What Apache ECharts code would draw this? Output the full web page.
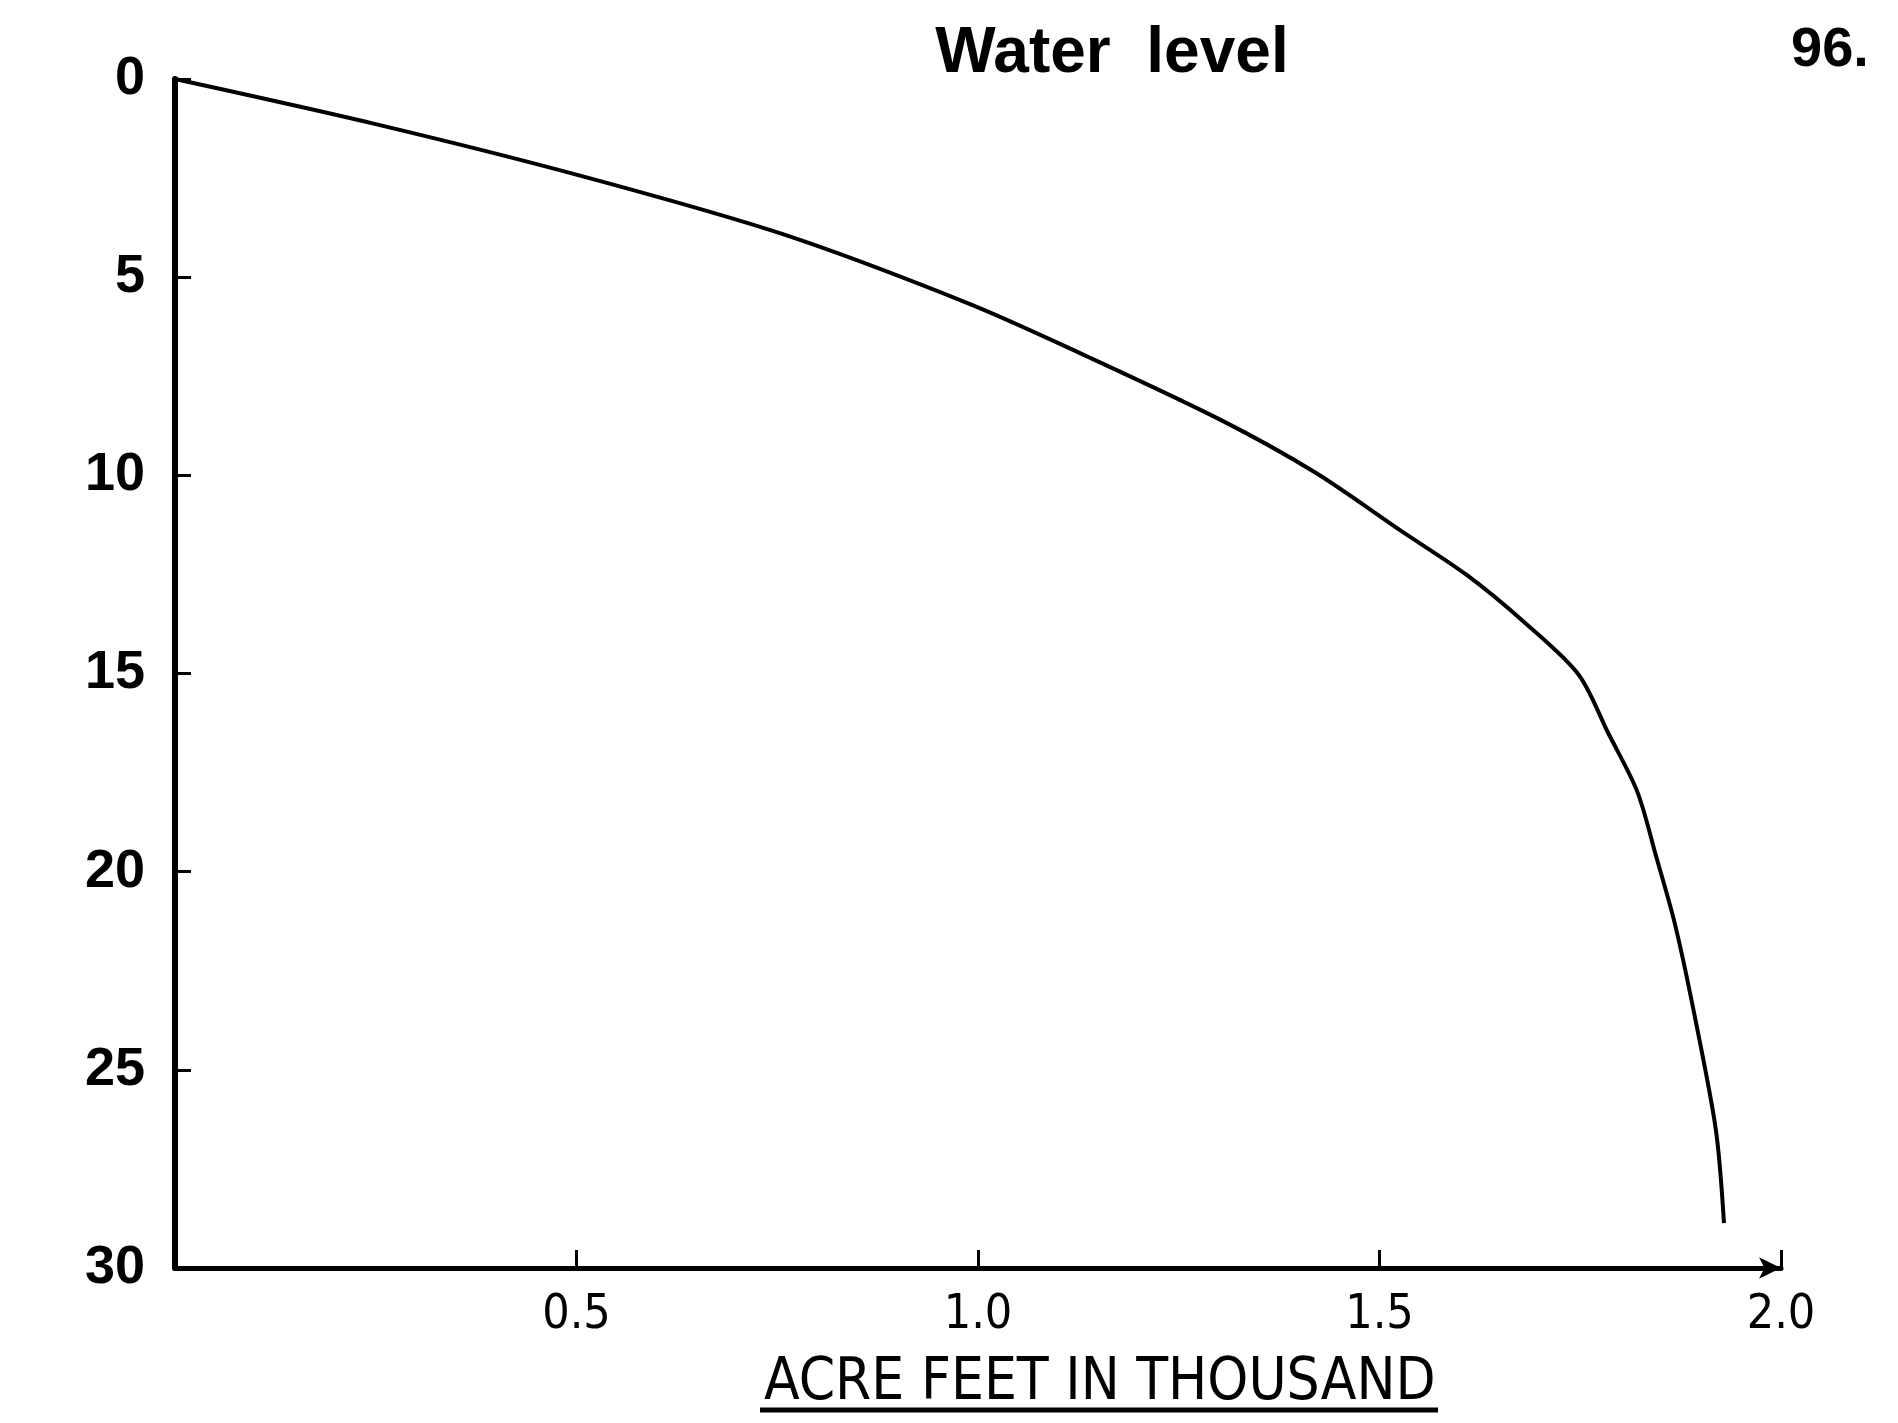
<!DOCTYPE html>
<html>
<head>
<meta charset="utf-8">
<script src="https://cdn.jsdelivr.net/npm/echarts@6/dist/echarts.min.js"></script>
<style>
html,body{margin:0;padding:0;background:#fff;}
#chart{width:1898px;height:1423px;}
</style>
</head>
<body>
<div id="chart"></div>
<script>
// Capacity curve: acre feet (thousand) vs depth below water level (ft)
const acreFeet = [0, 0.246, 0.501, 0.756, 0.990, 1.138, 1.304, 1.420, 1.526, 1.609, 1.681, 1.748, 1.784, 1.821, 1.845, 1.868, 1.892, 1.919, 1.929];
const depth    = [0, 1.12, 2.42, 3.91, 5.68, 7.02, 8.62, 9.93, 11.39, 12.52, 13.72, 15.03, 16.47, 17.98, 19.65, 21.33, 23.59, 26.53, 28.87];
const xTicks = [0.5, 1.0, 1.5, 2.0];
const yTicks = [0, 5, 10, 15, 20, 25, 30];
const titleText = 'Water  level';
const pageNo = '96.';
const xAxisName = 'ACRE FEET IN THOUSAND';

const chart = echarts.init(document.getElementById('chart'));
const pts = acreFeet.map((v, i) => [v, depth[i]]);

chart.setOption({
  backgroundColor: '#fff',
  animation: false,
  grid: {left: 175, right: 117, top: 79, bottom: 155},
  title: [
    {text: titleText, left: 1107, top: 17, textAlign: 'center',
     textStyle: {fontFamily: 'Liberation Sans', fontWeight: 'bold', fontSize: 64, color: '#000'}},
    {text: pageNo, left: 1786, top: 18,
     textStyle: {fontFamily: 'Liberation Sans', fontWeight: 'bold', fontSize: 56, color: '#000'}}
  ],
  xAxis: {
    type: 'value', min: 0, max: 2.0, interval: 0.5, position: 'bottom',
    axisLine: {onZero: false, lineStyle: {color: '#000', width: 5}, symbol: ['none', 'arrow'], symbolSize: [16, 22]},
    axisTick: {show: true, inside: true, length: 18, lineStyle: {color: '#000', width: 3},
               customValues: xTicks},
    axisLabel: {
      customValues: xTicks,
      formatter: v => v.toFixed(1),
      fontFamily: 'DejaVu Sans Condensed', fontSize: 48, color: '#000', margin: 24
    },
    splitLine: {show: false}
  },
  yAxis: {
    type: 'value', inverse: true, min: 0, max: 30, interval: 5,
    axisLine: {show: true, lineStyle: {color: '#000', width: 6}},
    axisTick: {show: true, inside: true, length: 16, lineStyle: {color: '#000', width: 3},
               customValues: yTicks},
    axisLabel: {customValues: yTicks, fontFamily: 'Liberation Sans', fontWeight: 'bold',
                fontSize: 54, color: '#000', margin: 30},
    splitLine: {show: false}
  },
  graphic: [
    {type: 'text', left: 764, top: 1355,
     style: {text: xAxisName, fill: '#000', font: '58px "DejaVu Sans Condensed"'}},
    {type: 'line', shape: {x1: 760, y1: 1410, x2: 1438, y2: 1410},
     style: {stroke: '#000', lineWidth: 5}}
  ],
  series: [{
    type: 'line', data: pts, smooth: 0.3, showSymbol: false,
    lineStyle: {color: '#000', width: 4}
  }]
});
</script>
</body>
</html>
